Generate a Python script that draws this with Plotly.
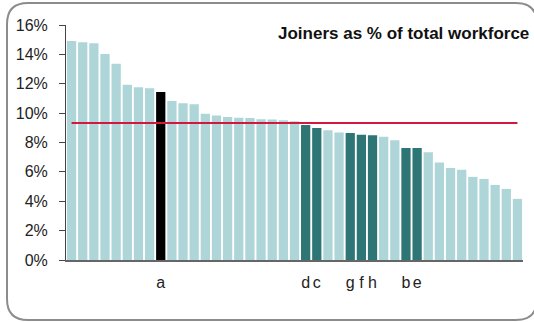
import plotly.graph_objects as go

# Data (sorted joiners as % of total workforce)
values = [14.91, 14.82, 14.75, 14.02, 13.36, 11.93, 11.77, 11.70, 11.43, 10.82,
          10.68, 10.61, 9.95, 9.84, 9.73, 9.68, 9.66, 9.59, 9.57, 9.51,
          9.45, 9.20, 8.98, 8.84, 8.68, 8.64, 8.52, 8.50, 8.39, 8.16,
          7.63, 7.63, 7.34, 6.64, 6.27, 6.14, 5.66, 5.52, 5.11, 4.84,
          4.16]
labels = ['', '', '', '', '', '', '', '', 'a', '',
          '', '', '', '', '', '', '', '', '', '',
          '', 'd', 'c', '', '', 'g', 'f', 'h', '', '',
          'b', 'e', '', '', '', '', '', '', '', '',
          '']
# group: 0 = other, 1 = highlighted peer, 2 = focus
groups = [0, 0, 0, 0, 0, 0, 0, 0, 2, 0,
          0, 0, 0, 0, 0, 0, 0, 0, 0, 0,
          0, 1, 1, 0, 0, 1, 1, 1, 0, 0,
          1, 1, 0, 0, 0, 0, 0, 0, 0, 0,
          0]
average = 9.32
title_text = "Joiners as % of total workforce"
y_ticks = [0, 2, 4, 6, 8, 10, 12, 14, 16]
y_ticktext = [f"{v}%" for v in y_ticks]

palette = {0: "#AED5D8", 1: "#2E7576", 2: "#000000"}
colors = [palette[g] for g in groups]
xs = list(range(len(values)))

W, H = 534, 322
ML, MR, MT, MB = 66, 11, 25, 62
PW, PH = W - ML - MR, H - MT - MB

def px(x):
    return (x - ML) / PW

def py(y):
    return (H - MB - y) / PH

fig = go.Figure()
fig.add_trace(go.Bar(x=xs, y=values, marker=dict(color=colors, line=dict(width=0)),
                     hoverinfo="skip"))
fig.add_trace(go.Scatter(x=[xs[0], xs[-1]], y=[average, average], mode="lines",
                         line=dict(color="#D2183E", width=2), hoverinfo="skip"))

# rounded frame
l, r, t, b, rad = 7, 537, 3, 320, 21
path = (f"M {px(l+rad)},{py(t)} L {px(r-rad)},{py(t)} "
        f"Q {px(r)},{py(t)} {px(r)},{py(t+rad)} "
        f"L {px(r)},{py(b-rad)} Q {px(r)},{py(b)} {px(r-rad)},{py(b)} "
        f"L {px(l+rad)},{py(b)} Q {px(l)},{py(b)} {px(l)},{py(b-rad)} "
        f"L {px(l)},{py(t+rad)} Q {px(l)},{py(t)} {px(l+rad)},{py(t)} Z")
fig.add_shape(type="path", path=path, xref="paper", yref="paper",
              line=dict(color="#8C8C8C", width=2), layer="below")

fig.add_annotation(text=f"<b>{title_text}</b>", xref="paper", yref="paper",
                   x=px(531), y=py(33), xanchor="right", yanchor="middle",
                   showarrow=False,
                   font=dict(family="Liberation Sans, Arial", size=17, color="#111111"))

fig.update_layout(
    width=W, height=H, margin=dict(l=ML, r=MR, t=MT, b=MB),
    paper_bgcolor="white", plot_bgcolor="white",
    showlegend=False, bargap=0.17,
    font=dict(family="Liberation Sans, Arial", size=16, color="#222222"),
)
fig.update_xaxes(range=[-0.5, len(values) - 0.5], tickmode="array", tickvals=xs,
                 ticktext=labels, ticks="", showgrid=False, zeroline=False,
                 showline=True, linecolor="#666666", linewidth=1.5,
                 ticklabelstandoff=7, tickfont=dict(size=16, color="#222222"))
fig.update_yaxes(range=[0, 16], tickmode="array", tickvals=y_ticks, ticktext=y_ticktext,
                 ticks="outside", ticklen=6, tickcolor="#444444", showgrid=False,
                 zeroline=False, showline=True, linecolor="#444444", linewidth=1,
                 ticklabelstandoff=8, tickfont=dict(size=16, color="#222222"))

fig.write_html("out.html", config={"displayModeBar": False},
               post_script="document.body.style.margin='0';document.body.style.overflow='hidden';")
